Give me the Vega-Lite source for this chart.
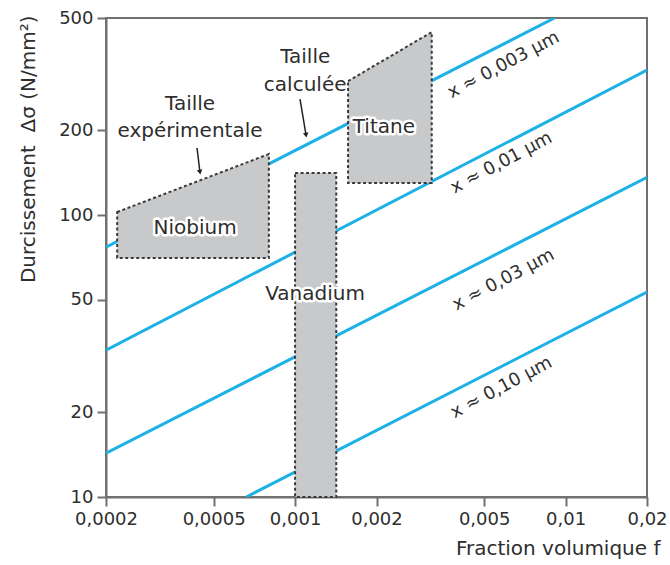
{
  "$schema": "https://vega.github.io/schema/vega-lite/v6.json",
  "width": 541,
  "height": 479,
  "autosize": "none",
  "padding": {"left": 106, "top": 18, "right": 23, "bottom": 68},
  "background": "white",
  "config": {
    "font": "DejaVu Sans",
    "view": {"stroke": "#707070", "strokeWidth": 2},
    "axis": {
      "grid": false,
      "labelFont": "DejaVu Sans",
      "labelFontSize": 18,
      "labelColor": "#2e2e2e",
      "titleFont": "DejaVu Sans",
      "titleFontSize": 20,
      "titleFontWeight": "normal",
      "titleColor": "#2e2e2e",
      "domainColor": "#707070",
      "domainWidth": 2,
      "tickColor": "#707070",
      "tickWidth": 2,
      "tickSize": 9,
      "labelOverlap": false,
      "labelFlush": false,
      "zindex": 1
    }
  },
  "datasets": {
    "lines": [
      {"s": "0.003", "f": 0.0002, "v": 77},
      {"s": "0.003", "f": 0.0091, "v": 500},
      {"s": "0.01", "f": 0.0002, "v": 33.2},
      {"s": "0.01", "f": 0.02, "v": 327},
      {"s": "0.03", "f": 0.0002, "v": 14.3},
      {"s": "0.03", "f": 0.02, "v": 136},
      {"s": "0.10", "f": 0.00066, "v": 10},
      {"s": "0.10", "f": 0.02, "v": 53.3}
    ],
    "shapes": [
      {"n": "Niobium", "f": 0.00022, "lo": 70.4, "v": 102.5},
      {"n": "Niobium", "f": 0.0008, "lo": 70.4, "v": 164.6},
      {"n": "Titane", "f": 0.00157, "lo": 129.9, "v": 298.6},
      {"n": "Titane", "f": 0.0032, "lo": 129.9, "v": 445.6},
      {"n": "Vanadium", "f": 0.001, "lo": 10, "v": 140.9},
      {"n": "Vanadium", "f": 0.00142, "lo": 10, "v": 140.9}
    ],
    "lineLabels": [
      {"t": "x ≈ 0,003 µm", "f": 0.0059, "v": 340},
      {"t": "x ≈ 0,01 µm", "f": 0.0058, "v": 152.9},
      {"t": "x ≈ 0,03 µm", "f": 0.0059, "v": 58.8},
      {"t": "x ≈ 0,10 µm", "f": 0.0058, "v": 24.4}
    ],
    "metalLabels": [
      {"t": "Niobium", "f": 0.000427, "v": 89.9},
      {"t": "Titane", "f": 0.00213, "v": 205},
      {"t": "Vanadium", "f": 0.001185, "v": 52.5}
    ],
    "notes": [
      {"t": "Taille", "f": 0.000409, "v": 247.5},
      {"t": "expérimentale", "f": 0.000409, "v": 198.6},
      {"t": "Taille", "f": 0.00109, "v": 363},
      {"t": "calculée", "f": 0.00109, "v": 289}
    ],
    "arrows": [
      {"a": "exp", "f": 0.000434, "v": 172.9, "f2": 0.000445, "v2": 142.1},
      {"a": "calc", "f": 0.001043, "v": 257.8, "f2": 0.001098, "v2": 192.1}
    ]
  },
  "encoding": {
    "x": {
      "field": "f",
      "type": "quantitative",
      "scale": {"type": "log", "domain": [0.0002, 0.02], "nice": false},
      "axis": {
        "values": [0.0002, 0.0005, 0.001, 0.002, 0.005, 0.01, 0.02],
        "labelExpr": "replace(toString(datum.value), '.', ',')",
        "labelPadding": 4,
        "title": "Fraction volumique f",
        "titleAnchor": "end",
        "titleX": 554,
        "titlePadding": 10
      }
    },
    "y": {
      "field": "v",
      "type": "quantitative",
      "scale": {"type": "log", "domain": [10, 500], "nice": false},
      "axis": {
        "values": [10, 20, 50, 100, 200, 500],
        "labelPadding": 4,
        "title": "Durcissement \u00a0Δσ (N/mm²)",
        "titleAnchor": "end",
        "titleY": -3,
        "titlePadding": 20
      }
    }
  },
  "layer": [
    {
      "data": {"name": "lines"},
      "mark": {"type": "line", "color": "#1db1e6", "strokeWidth": 3, "clip": true},
      "encoding": {"detail": {"field": "s"}}
    },
    {
      "data": {"name": "shapes"},
      "mark": {
        "type": "area",
        "fill": "#c8c9cb",
        "fillOpacity": 1,
        "opacity": 1,
        "stroke": "#3a3a3a",
        "strokeWidth": 2,
        "strokeDash": [3, 2.5]
      },
      "encoding": {
        "y2": {"field": "lo"},
        "detail": {"field": "n"}
      }
    },
    {
      "data": {"name": "arrows"},
      "mark": {"type": "rule", "color": "#222222", "strokeWidth": 1.5},
      "encoding": {
        "x2": {"field": "f2"},
        "y2": {"field": "v2"}
      }
    },
    {
      "data": {"name": "arrows"},
      "mark": {"type": "point", "shape": "triangle-down", "filled": true, "color": "#222222", "size": 30, "angle": -9, "opacity": 1},
      "encoding": {
        "x": {"field": "f2", "type": "quantitative"},
        "y": {"field": "v2", "type": "quantitative"}
      }
    },
    {
      "data": {"name": "lineLabels"},
      "mark": {"type": "text", "angle": -28, "fontSize": 18, "color": "#2e2e2e", "align": "center", "baseline": "middle"},
      "encoding": {"text": {"field": "t"}}
    },
    {
      "data": {"name": "metalLabels"},
      "mark": {"type": "text", "fontSize": 20, "stroke": "white", "strokeWidth": 5, "strokeJoin": "round", "color": "white", "align": "center", "baseline": "middle"},
      "encoding": {"text": {"field": "t"}}
    },
    {
      "data": {"name": "metalLabels"},
      "mark": {"type": "text", "fontSize": 20, "color": "#2e2e2e", "align": "center", "baseline": "middle"},
      "encoding": {"text": {"field": "t"}}
    },
    {
      "data": {"name": "notes"},
      "mark": {"type": "text", "fontSize": 20, "color": "#2e2e2e", "align": "center", "baseline": "middle"},
      "encoding": {"text": {"field": "t"}}
    }
  ]
}
